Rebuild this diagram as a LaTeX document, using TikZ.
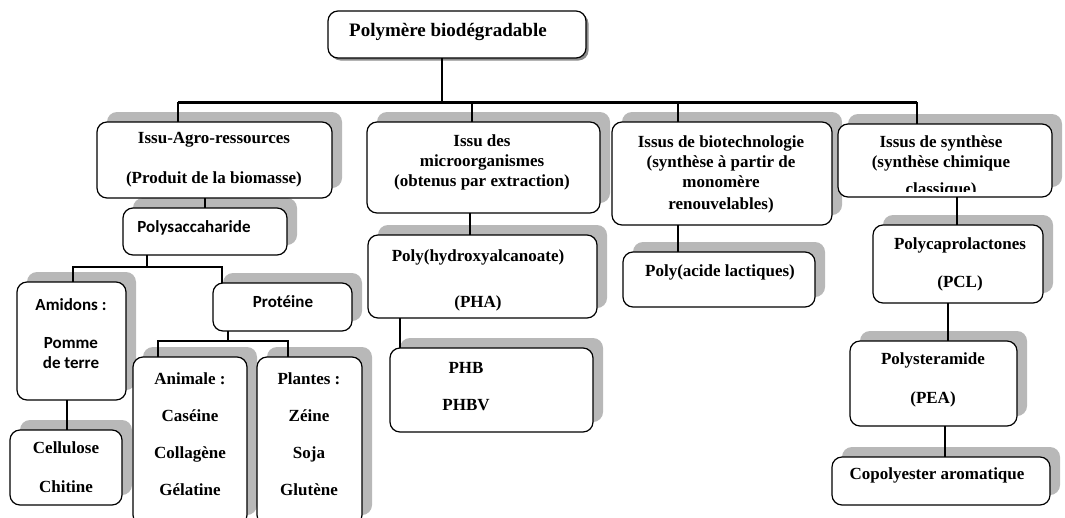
\documentclass[tikz,border=0pt]{standalone}
\usepackage{fontspec}
\setmainfont{Liberation Serif}
\newfontfamily\sansfam{Carlito}
\usetikzlibrary{backgrounds}
\definecolor{shadowc}{gray}{0.72}
\tikzset{
  box/.style={draw, line width=1.2pt, rounded corners=10pt, fill=white, inner sep=0pt, outer sep=0pt},
  txt/.style={font=\bfseries\fontsize{17}{20}\selectfont, align=center, inner sep=0pt},
  stxt/.style={font=\sansfam\bfseries\fontsize{17}{20}\selectfont, align=center, inner sep=0pt},
  conn/.style={line width=1.8pt},
  bus/.style={line width=3pt},
}
\begin{document}
\begin{tikzpicture}[x=1pt,y=-1pt]
\useasboundingbox (0,0) rectangle (1065,517);
% boxes
\node[box, minimum width=258pt, minimum height=47pt] (top) at (457,34.5) {};
\node[box, minimum width=235pt, minimum height=76pt] (agro) at (214.5,160) {};
\node[box, minimum width=233pt, minimum height=91pt] (micro) at (483.5,167.5) {};
\node[box, minimum width=220pt, minimum height=103pt] (biot) at (722,173.5) {};
\node[box, minimum width=214pt, minimum height=73pt] (synth) at (945,160.5) {};
\node[box, minimum width=164pt, minimum height=47pt] (polys) at (205,231.5) {};
\node[box, minimum width=229pt, minimum height=83pt] (pha) at (482.5,276.5) {};
\node[box, minimum width=203pt, minimum height=84pt] (phb) at (491.5,390) {};
\node[box, minimum width=192pt, minimum height=55pt] (pla) at (719,279.5) {};
\node[box, minimum width=170pt, minimum height=78pt] (pcl) at (958,264) {};
\node[box, minimum width=167pt, minimum height=85pt] (pea) at (933.5,383.5) {};
\node[box, minimum width=218pt, minimum height=48pt] (copo) at (941,481) {};
\node[box, minimum width=109pt, minimum height=118pt] (amid) at (71.5,341) {};
\node[box, minimum width=112pt, minimum height=75pt] (cell) at (66,467.5) {};
\node[box, minimum width=139pt, minimum height=48pt] (prot) at (282.5,307) {};
\node[box, minimum width=114pt, minimum height=168pt] (anim) at (190,441) {};
\node[box, minimum width=105pt, minimum height=168pt] (plan) at (309.5,441) {};
% shadows
\begin{scope}[on background layer]
\fill[white] (0,0) rectangle (1065,517);
\fill[black!45, rounded corners=10pt] ([xshift=2.5pt,yshift=-2.5pt]top.south west) rectangle ([xshift=2.5pt,yshift=-2.5pt]top.north east);
\foreach \n in {agro,micro,biot,synth,polys,pha,phb,pla,pcl,pea,copo,amid,cell,prot,anim,plan}
  \fill[shadowc, rounded corners=10pt] ([xshift=10pt,yshift=10pt]\n.south west) rectangle ([xshift=10pt,yshift=10pt]\n.north east);
\end{scope}
% texts
\node[txt, font=\bfseries\fontsize{19}{22}\selectfont] (ttop) at (448,32) {Polymère biodégradable};
\node[txt] (tagro) at (214,160) {Issu-Agro-ressources\\[20pt](Produit de la biomasse)};
\node[txt] (tmicro) at (482,162.5) {Issu des\\microorganismes\\(obtenus par extraction)};
\node[txt] (tbiot) at (721,174) {Issus de biotechnologie\\(synthèse à partir de\\monomère\\[2pt]renouvelables)};
\node[txt] (tsynth) at (941,153) {Issus de synthèse\\(synthèse chimique};
\begin{scope}
\clip ([xshift=1pt]synth.north west) rectangle ([xshift=-1pt,yshift=6pt]synth.south east);
\node[txt, anchor=base] (tsynth2) at (941,194) {classique)};
\end{scope}
\node[stxt] (tpolys) at (194,228) {Polysaccaharide};
\node[txt] (tpha) at (478,280) {Poly(hydroxyalcanoate)\\[26pt](PHA)};
\node[txt] (tphb) at (466,386.5) {PHB\\[17pt]PHBV};
\node[txt] (tpla) at (720,272) {Poly(acide lactiques)};
\node[txt] (tpcl) at (960,264) {Polycaprolactones\\[18pt](PCL)};
\node[txt] (tpea) at (933,379.5) {Polysteramide\\[19pt](PEA)};
\node[txt] (tcopo) at (937,475) {Copolyester aromatique};
\node[stxt] (tamid) at (71,334) {Amidons :\\[18pt]Pomme\\de terre};
\node[txt] (tcell) at (66,467.5) {Cellulose\\[19pt]Chitine};
\node[stxt] (tprot) at (283,302) {Protéine};
\node[txt] (tanim) at (190,434) {Animale :\\[17pt]Caséine\\[17pt]Collagène\\[17pt]Gélatine};
\node[txt] (tplan) at (309,434) {Plantes :\\[17pt]Zéine\\[17pt]Soja\\[17pt]Glutène};
% connectors
\coordinate (bl) at (178,102);
\coordinate (br) at (917,102);
\coordinate (bc) at (442,102);
\coordinate (bm) at (472,102);
\coordinate (bb) at (678,102);
\draw[conn] (bc |- top.south) -- (bc);
\draw[bus] (bl) -- (br);
\draw[conn] (bl) -- (bl |- agro.north);
\draw[conn] (bm) -- (bm |- micro.north);
\draw[conn] (bb) -- (bb |- biot.north);
\draw[conn] (br) -- (br |- synth.north);
\coordinate (ap) at (205,198);
\draw[conn] (ap |- agro.south) -- (ap |- polys.north);
\coordinate (pj) at (147,267);
\coordinate (pl) at (73,267);
\coordinate (pr) at (222,267);
\draw[conn] (pj |- polys.south) -- (pj);
\draw[conn] (pl |- amid.north) -- (pl) -- (pr) -- (pr |- prot.north);
\coordinate (ac) at (67,400);
\draw[conn] (ac |- amid.south) -- (ac |- cell.north);
\coordinate (qj) at (228,341);
\coordinate (ql) at (158,341);
\coordinate (qr) at (288,341);
\draw[conn] (qj |- prot.south) -- (qj);
\draw[conn] (ql |- anim.north) -- (ql) -- (qr) -- (qr |- plan.north);
\coordinate (mp) at (470,213);
\draw[conn] (mp |- micro.south) -- (mp |- pha.north);
\coordinate (pp) at (400,318);
\draw[conn] (pp |- pha.south) -- (pp |- phb.north);
\coordinate (bp) at (678,225);
\draw[conn] (bp |- biot.south) -- (bp |- pla.north);
\coordinate (sp) at (957,197);
\draw[conn] (sp |- synth.south) -- (sp |- pcl.north);
\coordinate (cp) at (948,303);
\draw[conn] (cp |- pcl.south) -- (cp |- pea.north);
\coordinate (ec) at (945,426);
\draw[conn] (ec |- pea.south) -- (ec |- copo.north);
\end{tikzpicture}
\end{document}
